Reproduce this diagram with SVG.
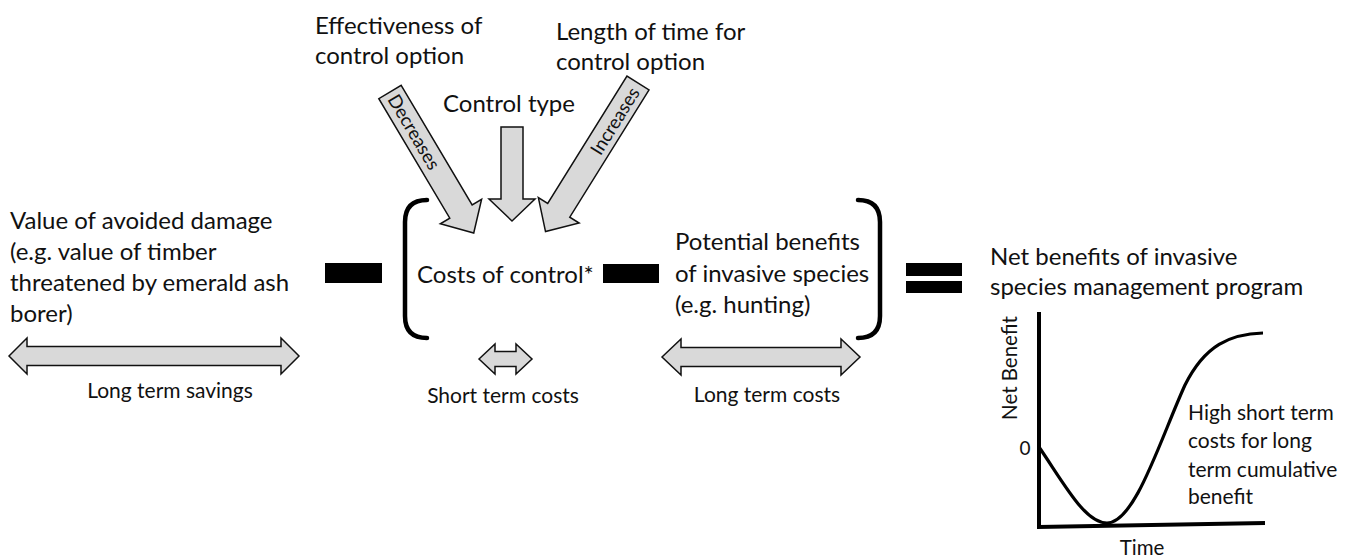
<svg xmlns="http://www.w3.org/2000/svg" width="1355" height="559" viewBox="0 0 1355 559">
<style>
text{font-family:Lato,"Open Sans","Liberation Sans",sans-serif;fill:#111}
.m{font-size:24px}
.s{font-size:21px}
.a{font-size:18.5px}
.g{font-size:21px}
.arr{fill:#d9d9d9;stroke:#111;stroke-width:1.5;stroke-linejoin:miter}
.br{fill:none;stroke:#000;stroke-width:4.5;stroke-linecap:round}
.ax{fill:none;stroke:#000;stroke-width:4}
.cv{fill:none;stroke:#000;stroke-width:3.2}
</style>
<rect width="1355" height="559" fill="#fff"/>

<g id="effectiveness">
<text class="m" x="315" y="34">Effectiveness of</text>
<text class="m" x="315" y="64">control option</text>
</g>
<g id="length">
<text class="m" x="556" y="40">Length of time for</text>
<text class="m" x="556" y="70">control option</text>
</g>
<g id="controltype">
<text class="m" x="443" y="112">Control type</text>
</g>

<g id="connectors">
<path class="arr" transform="translate(390,92) rotate(59.3)" d="M0,-13 L139,-13 L139,-24 L164,0 L139,24 L139,13 L0,13 Z"/>
<path class="arr" transform="translate(512,127) rotate(90)" d="M0,-11 L72,-11 L72,-23 L94,0 L72,23 L72,11 L0,11 Z"/>
<path class="arr" transform="translate(638,83) rotate(121.9)" d="M0,-13 L150,-13 L150,-24 L175,0 L150,24 L150,13 L0,13 Z"/>
<text class="a" transform="translate(414,132) rotate(59.3)" text-anchor="middle" y="6.5">Decreases</text>
<text class="a" transform="translate(615,121) rotate(-58.1)" text-anchor="middle" y="6.5">Increases</text>
<path class="arr" d="M9,356 L27,338 L27,346.5 L281,346.5 L281,338 L299,356 L281,374 L281,365.5 L27,365.5 L27,374 Z"/>
<path class="arr" d="M479,359 L495,344 L495,351.5 L516,351.5 L516,344 L532,359 L516,374 L516,366.5 L495,366.5 L495,374 Z"/>
<path class="arr" d="M662,357 L681,339 L681,347.5 L841,347.5 L841,339 L860,357 L841,375 L841,366.5 L681,366.5 L681,375 Z"/>
</g>

<g id="avoided-damage">
<text class="m" x="10" y="229">Value of avoided damage</text>
<text class="m" x="10" y="260">(e.g. value of timber</text>
<text class="m" x="10" y="291">threatened by emerald ash</text>
<text class="m" x="10" y="322">borer)</text>
<text class="s" x="170" y="398" text-anchor="middle">Long term savings</text>
</g>

<g id="minus1"><rect x="325" y="263" width="57" height="20" fill="#000"/></g>

<g id="bracket-left"><path class="br" d="M427,200 Q405,200 405,222 L405,316 Q405,338 427,338"/></g>

<g id="costs">
<text class="m" x="417" y="283">Costs of control*</text>
<text class="s" x="503" y="403" text-anchor="middle">Short term costs</text>
</g>

<g id="minus2"><rect x="603" y="264" width="56" height="19" fill="#000"/></g>

<g id="benefits">
<text class="m" x="675" y="250">Potential benefits</text>
<text class="m" x="675" y="282">of invasive species</text>
<text class="m" x="675" y="313">(e.g. hunting)</text>
<text class="s" x="767" y="402" text-anchor="middle">Long term costs</text>
</g>

<g id="bracket-right"><path class="br" d="M858,200 Q880,200 880,222 L880,316 Q880,338 858,338"/></g>

<g id="equals">
<rect x="906" y="263" width="56" height="13" fill="#000"/>
<rect x="906" y="281" width="56" height="12" fill="#000"/>
</g>

<g id="net-benefits">
<text class="m" x="990" y="265">Net benefits of invasive</text>
<text class="m" x="990" y="295">species management program</text>
</g>

<g id="graph">
<path class="ax" d="M1039,312 L1039,527 L1265,523"/>
<path class="cv" d="M1039,447 C1065,485 1085,523 1107,523 C1135,523 1160,440 1185,385 C1205,345 1230,334 1263,333"/>
<text class="g" transform="translate(1017,368) rotate(-90)" text-anchor="middle" style="font-size:20.5px">Net Benefit</text>
<text class="g" x="1025" y="455" text-anchor="middle" style="font-size:19px">0</text>
<text class="g" x="1142" y="555" text-anchor="middle" style="font-size:20.5px">Time</text>
<text class="g" x="1188" y="420">High short term</text>
<text class="g" x="1188" y="448">costs for long</text>
<text class="g" x="1188" y="477">term cumulative</text>
<text class="g" x="1188" y="504">benefit</text>
</g>
</svg>
